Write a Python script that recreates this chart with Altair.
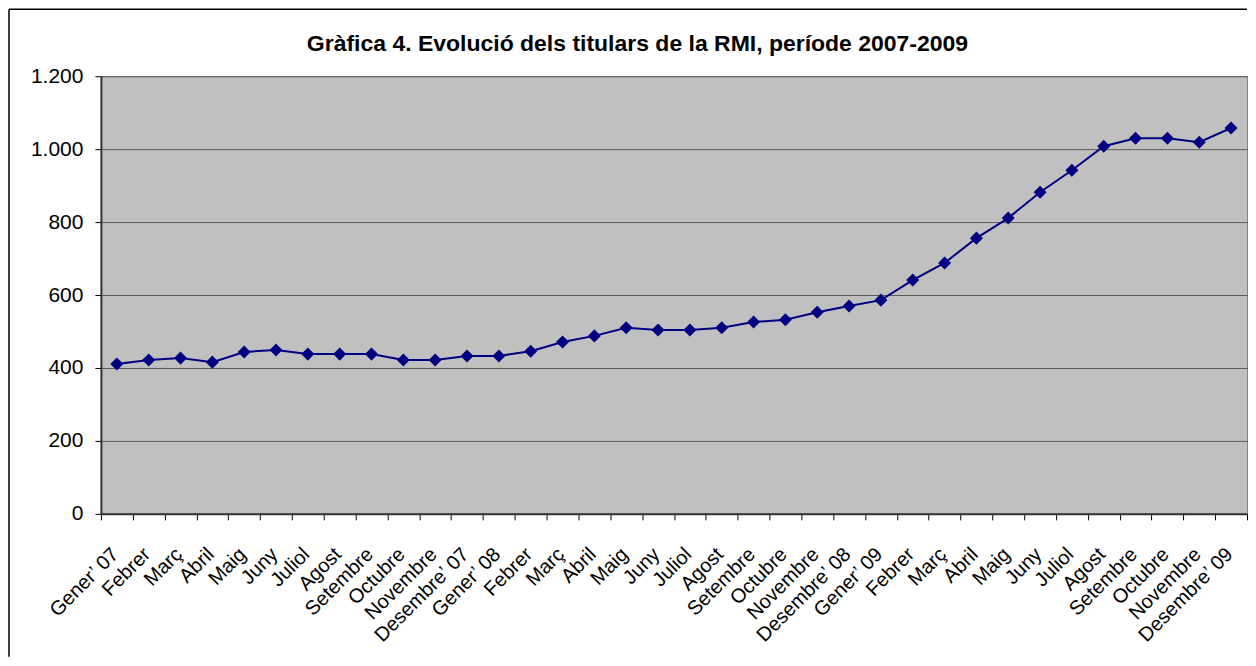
import json
import altair as alt
import pandas as pd

title_text = "Gràfica 4. Evolució dels titulars de la RMI, període 2007-2009"

labels_2007 = ["Gener’ 07", "Febrer", "Març", "Abril", "Maig", "Juny", "Juliol", "Agost",
               "Setembre", "Octubre", "Novembre", "Desembre’ 07"]
labels_2008 = ["Gener’ 08", "Febrer", "Març", "Abril", "Maig", "Juny", "Juliol", "Agost",
               "Setembre", "Octubre", "Novembre", "Desembre’ 08"]
labels_2009 = ["Gener’ 09", "Febrer", "Març", "Abril", "Maig", "Juny", "Juliol", "Agost",
               "Setembre", "Octubre", "Novembre", "Desembre’ 09"]

values_2007 = [411, 422, 427, 416, 444, 449, 438, 438, 438, 422, 422, 433]
values_2008 = [433, 446, 471, 488, 510, 504, 504, 510, 526, 532, 553, 570]
values_2009 = [586, 641, 688, 756, 811, 882, 942, 1008, 1030, 1030, 1019, 1058]

y_ticks = [0, 200, 400, 600, 800, 1000, 1200]

labels = labels_2007 + labels_2008 + labels_2009
values = values_2007 + values_2008 + values_2009
df = pd.DataFrame({"idx": list(range(len(labels))), "label": labels, "value": values})

label_expr = json.dumps(labels, ensure_ascii=False) + "[datum.value]"

FONT = "Liberation Sans"
W, H = 1147, 438

x_enc = alt.X(
    "idx:O",
    scale=alt.Scale(type="band", paddingInner=0, paddingOuter=0),
    axis=alt.Axis(
        title=None,
        labelExpr=label_expr,
        labelAngle=-45,
        labelFontSize=20,
        labelFont=FONT,
        labelColor="black",
        labelPadding=24,
        labelOffset=-9,
        labelOverlap=False,
        tickBand="extent",
        tickSize=6,
        tickColor="black",
        domainColor="#333333",
        domainWidth=2,
        grid=False,
    ),
)
y_enc = alt.Y(
    "value:Q",
    scale=alt.Scale(domain=[0, 1200], nice=False),
    axis=alt.Axis(
        title=None,
        values=y_ticks,
        labelExpr="replace(format(datum.value, ','), ',', '.')",
        labelFontSize=21,
        labelFont=FONT,
        labelColor="black",
        labelPadding=12,
        tickSize=6,
        tickColor="black",
        domainColor="#333333",
        domainWidth=2,
        grid=True,
        gridColor="#5a5a5a",
        gridWidth=1,
    ),
)

base = alt.Chart(df).encode(x=x_enc, y=y_enc)
line = base.mark_line(color="#000080", strokeWidth=2)
pts = base.mark_point(shape="diamond", filled=True, color="#000080", size=170, opacity=1)

deco = alt.Chart(pd.DataFrame({"t": [title_text]}))
title = deco.mark_text(
    font=FONT, fontSize=23, fontWeight="bold", color="black", align="center", baseline="alphabetic"
).encode(text="t:N", x=alt.value(537), y=alt.value(-25))
frame_left = deco.mark_rule(color="black", strokeWidth=1.5).encode(
    x=alt.value(-92), y=alt.value(-67), y2=alt.value(581)
)
frame_top = deco.mark_rule(color="black", strokeWidth=1.5).encode(
    x=alt.value(-92), x2=alt.value(W), y=alt.value(-67)
)

chart = (
    alt.layer(frame_left, frame_top, title, line, pts)
    .properties(
        width=W,
        height=H,
        padding={"left": 0, "top": 0, "right": 0, "bottom": 0},
        background="white",
    )
    .configure_view(fill="#C0C0C0", stroke="#808080", strokeWidth=1)
)

chart.save("out.html", embed_options={"renderer": "svg", "actions": False})
